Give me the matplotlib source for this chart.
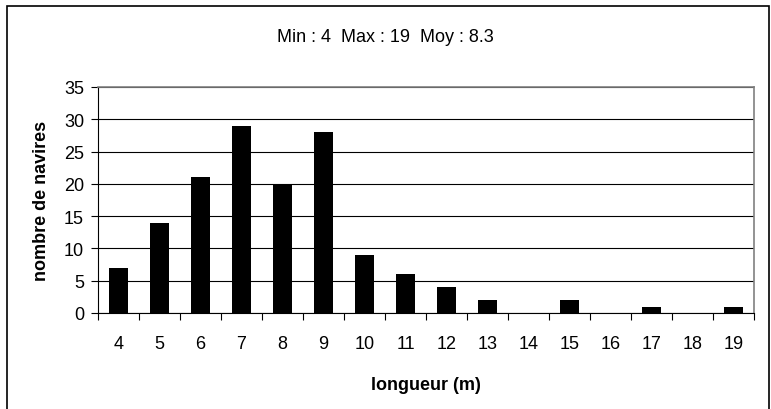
import matplotlib.pyplot as plt
from matplotlib.patches import Rectangle

longueurs = [4, 5, 6, 7, 8, 9, 10, 11, 12, 13, 14, 15, 16, 17, 18, 19]
navires = [7, 14, 21, 29, 20, 28, 9, 6, 4, 2, 0, 2, 0, 1, 0, 1]
yticks = [0, 5, 10, 15, 20, 25, 30, 35]

plt.rcParams['font.family'] = ['Liberation Sans', 'DejaVu Sans']

W, H = 771, 410
fig = plt.figure(figsize=(W / 100, H / 100), dpi=100)

# cadre exterieur
fig.patches.append(Rectangle((7 / W, -0.05), 762 / W, 1.05 - 7 / H,
                             transform=fig.transFigure, fill=False,
                             edgecolor='black', linewidth=1.2))

ax = fig.add_axes([98 / W, 1 - 314 / H, (754 - 98) / W, (314 - 88) / H])
x = list(range(len(longueurs)))
ax.bar(x, navires, width=0.45, color='black', zorder=3)

ax.set_xlim(-0.5, len(longueurs) - 0.5)
ax.set_ylim(0, 35)
ax.set_yticks(yticks)
ax.yaxis.grid(True, color='black', linewidth=0.8, zorder=0)

ax.set_xticks(x)
ax.set_xticklabels([str(v) for v in longueurs], fontsize=13)
ax.set_xticks([i - 0.5 for i in range(len(longueurs) + 1)], minor=True)
ax.tick_params(axis='x', which='major', length=0, pad=16)
ax.tick_params(axis='x', which='minor', length=5, width=0.8, direction='out')
ax.tick_params(axis='y', length=5, width=0.8, labelsize=13, pad=5)

for s in ['top', 'right']:
    ax.spines[s].set_color('#808080')
    ax.spines[s].set_linewidth(1.2)
for s in ['left', 'bottom']:
    ax.spines[s].set_color('black')
    ax.spines[s].set_linewidth(0.8)

ax.set_xlabel('longueur (m)', fontsize=13, fontweight='bold', labelpad=17)
ax.set_ylabel('nombre de navires', fontsize=13, fontweight='bold', labelpad=10)

fig.text(0.5, 1 - 37 / H, 'Min : 4  Max : 19  Moy : 8.3', ha='center',
         va='center', fontsize=13)

fig.savefig('out.png', dpi=100)
